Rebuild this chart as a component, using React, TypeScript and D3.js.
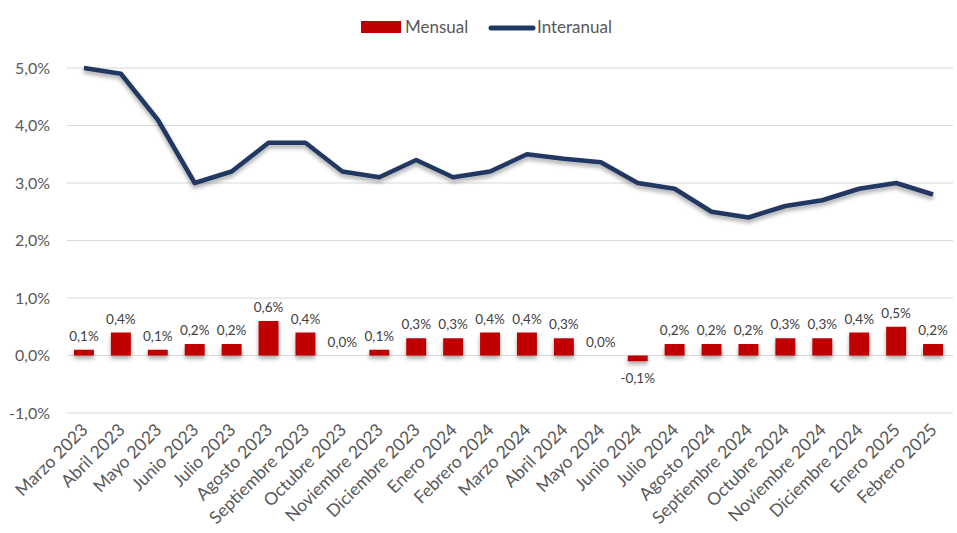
import * as d3 from 'd3'

const months = [
  'Marzo 2023', 'Abril 2023', 'Mayo 2023', 'Junio 2023', 'Julio 2023', 'Agosto 2023',
  'Septiembre 2023', 'Octubre 2023', 'Noviembre 2023', 'Diciembre 2023', 'Enero 2024',
  'Febrero 2024', 'Marzo 2024', 'Abril 2024', 'Mayo 2024', 'Junio 2024', 'Julio 2024',
  'Agosto 2024', 'Septiembre 2024', 'Octubre 2024', 'Noviembre 2024', 'Diciembre 2024',
  'Enero 2025', 'Febrero 2025',
]
const mensual = [0.1, 0.4, 0.1, 0.2, 0.2, 0.6, 0.4, 0.0, 0.1, 0.3, 0.3, 0.4, 0.4, 0.3, 0.0, -0.1, 0.2, 0.2, 0.2, 0.3, 0.3, 0.4, 0.5, 0.2]
const interanual = [5.0, 4.9, 4.1, 3.0, 3.2, 3.7, 3.7, 3.2, 3.1, 3.4, 3.1, 3.2, 3.5, 3.42, 3.36, 3.0, 2.9, 2.5, 2.4, 2.6, 2.7, 2.9, 3.0, 2.8]
const yTicks = [-1, 0, 1, 2, 3, 4, 5]

const W = 957
const H = 533
const FONT = 'Lato, "Open Sans", sans-serif'
const RED = '#c00000'
const NAVY = '#203864'
const TEXT = '#595959'

const fmt = (v: number) => v.toFixed(1).replace('.', ',') + '%'

export default function App() {
  const x = d3.scaleBand<string>().domain(months).range([65.5, 951.5]).paddingInner(0.46).paddingOuter(0.23)
  const cx = (m: string) => (x(m) as number) + x.bandwidth() / 2
  const y = d3.scaleLinear().domain([-1, 5]).range([413, 68])

  const line = d3
    .line<number>()
    .x((_, i) => cx(months[i]))
    .y(d => y(d))

  return (
    <svg width={W} height={H} style={{ position: 'absolute', left: 0, top: 0 }} fontFamily={FONT}>
      <defs>
        <filter id="shadow" x="-20%" y="-20%" width="140%" height="160%">
          <feDropShadow dx="0" dy="3" stdDeviation="2" floodColor="#000" floodOpacity="0.35" />
        </filter>
      </defs>

      {/* gridlines */}
      {yTicks.map(t => (
        <line key={t} x1={67} x2={953} y1={y(t)} y2={y(t)} stroke="#d9d9d9" strokeWidth={1.2} />
      ))}
      {yTicks.map(t => (
        <text key={'l' + t} x={50} y={y(t)} dy="0.35em" textAnchor="end" fontSize={16} fill={TEXT}>
          {fmt(t)}
        </text>
      ))}

      {/* bars */}
      <g filter="url(#shadow)">
        {mensual.map((v, i) => (
          <rect
            key={i}
            x={x(months[i])}
            width={x.bandwidth()}
            y={Math.min(y(v), y(0))}
            height={Math.abs(y(v) - y(0))}
            fill={RED}
          />
        ))}
      </g>
      <line x1={67} x2={953} y1={y(0)} y2={y(0)} stroke="#d9d9d9" strokeWidth={1.5} filter="url(#shadow)" />

      {mensual.map((v, i) => (
        <text
          key={'d' + i}
          x={cx(months[i])}
          y={v < 0 ? y(v) + 22 : y(v) - 9}
          textAnchor="middle"
          fontSize={13.5}
          fill="#404040"
        >
          {fmt(v)}
        </text>
      ))}

      {/* line */}
      <path d={line(interanual) ?? ''} fill="none" stroke={NAVY} strokeWidth={4.5} strokeLinejoin="round" filter="url(#shadow)" />

      {/* x labels */}
      {months.map(m => (
        <text
          key={m}
          transform={`translate(${cx(m) + 5},${431}) rotate(-45)`}
          textAnchor="end"
          fontSize={17.5}
          fill={TEXT}
        >
          {m}
        </text>
      ))}

      {/* legend */}
      <rect x={361} y={21} width={40} height={12} fill={RED} />
      <text x={405} y={32.5} fontSize={17} fill={TEXT}>Mensual</text>
      <line x1={491} x2={533} y1={28} y2={28} stroke={NAVY} strokeWidth={5} strokeLinecap="round" />
      <text x={537} y={32.5} fontSize={17} fill={TEXT}>Interanual</text>
    </svg>
  )
}
